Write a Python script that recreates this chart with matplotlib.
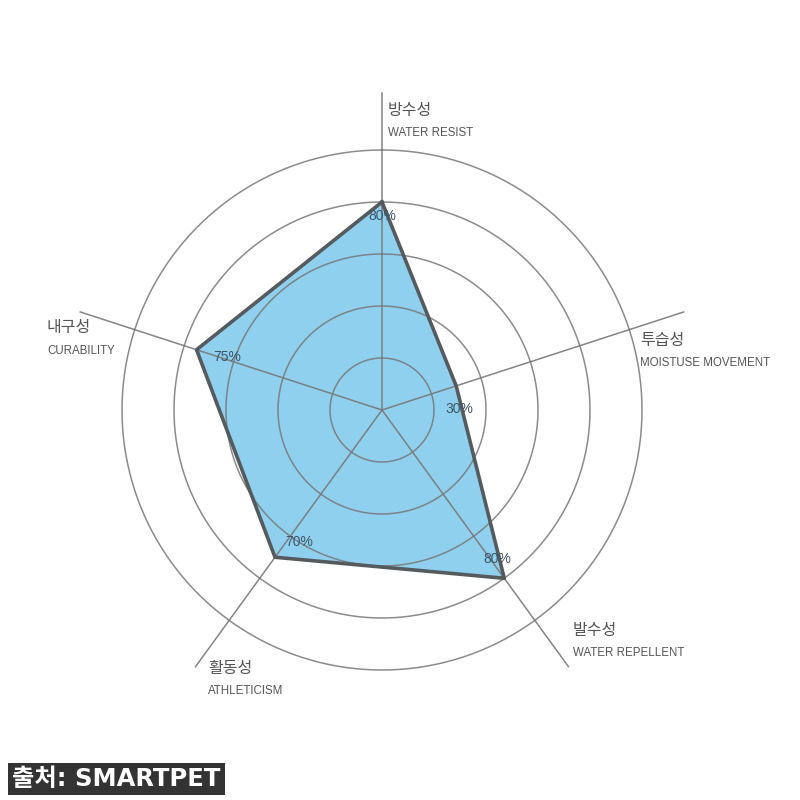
import numpy as np
import matplotlib; matplotlib.use("Agg")
import matplotlib.pyplot as plt

plt.rcParams['font.family'] = ['Noto Sans CJK KR', 'DejaVu Sans']

# ---- data ----
names_ko = ["방수성", "투습성", "발수성", "활동성", "내구성"]
names_en = ["WATER RESIST", "MOISTUSE MOVEMENT", "WATER REPELLENT", "ATHLETICISM", "CURABILITY"]
values = [80, 30, 80, 70, 75]
rings = [20, 40, 60, 80, 100]

FILL, EDGE, GRID, TXT = "#8fd0ee", "#555a5e", "#777777", "#555555"

n = len(values)
theta = np.linspace(0, 2 * np.pi, n, endpoint=False)

fig = plt.figure(figsize=(8, 8), dpi=100)
ax = fig.add_axes([0.07125, 0.08125, 0.8125, 0.8125], projection="polar")
ax.set_theta_offset(np.pi / 2)
ax.set_theta_direction(-1)
ax.set_ylim(0, 125)
ax.axis("off")

# polygon
th = np.append(theta, theta[0])
v = np.append(values, values[0])
ax.fill(th, v, color=FILL, zorder=1)
ax.plot(th, v, color=EDGE, lw=2.6, zorder=4)

# rings + spokes
circ = np.linspace(0, 2 * np.pi, 361)
for r in rings:
    ax.plot(circ, np.full_like(circ, r), color=GRID, lw=1.1, alpha=0.85, zorder=3)
for t in theta:
    ax.plot([t, t], [0, 122], color=GRID, lw=1.1, alpha=0.9, zorder=3)

# value labels (offset from each vertex, in pixels)
offs = [(0, -14), (3, -23), (-7, 19), (24, 15), (31, -7)]
for t, val, o in zip(theta, values, offs):
    ax.annotate(f"{val}%", (t, val), xytext=o, textcoords="offset pixels",
                ha="center", va="center", fontsize=10, color="#3d5566",
                family="Liberation Sans", zorder=5)

# axis names (Korean above, English below)
pos = [(388, 110), (640, 340), (573, 630), (208, 668), (47, 328)]
for (x, y), ko, en in zip(pos, names_ko, names_en):
    fig.text(x / 800, 1 - y / 800, ko, fontsize=11.5, color=TXT, ha="left", va="center")
    fig.text(x / 800, 1 - (y + 23) / 800, en, fontsize=8.3, color=TXT, ha="left", va="center",
             family="Liberation Sans")

# source box
fig.text(12 / 800, 1 - 779 / 800, "출처: SMARTPET", fontsize=17.5, fontweight="bold", color="white",
         ha="left", va="center", family=["DejaVu Sans", "Noto Sans CJK KR"],
         bbox=dict(boxstyle="square,pad=0.18", fc="#333333", ec="none"))

fig.savefig("out.png", dpi=100)
